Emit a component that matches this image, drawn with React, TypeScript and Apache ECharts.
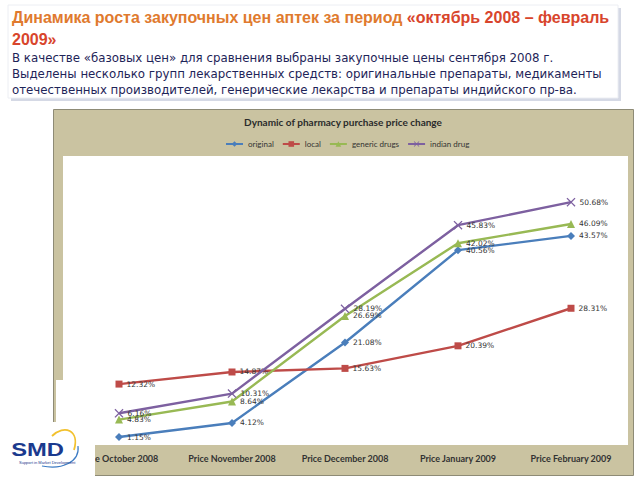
import React, { useEffect, useRef } from 'react';
import * as echarts from 'echarts';

const categories = ['Price October 2008', 'Price November 2008', 'Price December 2008', 'Price January 2009', 'Price February 2009'];
const original = [1.15, 4.12, 21.08, 40.56, 43.57];
const local = [12.32, 14.87, 15.63, 20.39, 28.31];
const generic = [4.83, 8.64, 26.69, 42.02, 46.09];
const indian = [6.16, 10.31, 28.19, 45.83, 50.68];
const seriesNames = ['original', 'local', 'generic drugs', 'indian drug'];
const seriesData = [original, local, generic, indian];
const colors = ['#4A7EBB', '#BE4B48', '#98B954', '#7D60A0'];
const crossPath = 'path://M0,1 L1,0 L5,4 L9,0 L10,1 L6,5 L10,9 L9,10 L5,6 L1,10 L0,9 L4,5 Z';
const symbols = ['diamond', 'rect', 'triangle', crossPath];
const symbolSizes = [8, 7, 8, 9];

const slideTitleA = 'Динамика роста закупочных цен аптек за период ';
const slideTitleB = '«октябрь 2008 – февраль';
const slideTitleC = '2009»';
const subLines = [
  'В качестве «базовых цен» для сравнения выбраны закупочные цены сентября 2008 г.',
  'Выделены несколько групп лекарственных средств: оригинальные препараты, медикаменты',
  'отечественных производителей, генерические лекарства и препараты индийского пр-ва.',
];
const chartTitle = 'Dynamic of pharmacy purchase price change';

const KHAKI = '#CAC3A1';

export default function App() {
  const ref = useRef<HTMLDivElement>(null);
  useEffect(() => {
    if (!ref.current) return;
    const chart = echarts.init(ref.current, null, { renderer: 'svg' });
    const titleFont = 'bold 16px "Liberation Sans", Arial, sans-serif';
    const subFont = '11.8px "DejaVu Sans", sans-serif';
    chart.setOption({
      animation: false,
      backgroundColor: '#FFFFFF',
      grid: { left: 62.5, right: 12.5, top: 158, bottom: 37.5 },
      legend: {
        data: seriesNames,
        top: 135,
        left: 220,
        itemWidth: 17,
        itemHeight: 7,
        itemGap: 8,
        textStyle: { fontFamily: 'Lato', fontSize: 8, color: '#333' },
      },
      xAxis: {
        type: 'category',
        data: categories,
        boundaryGap: true,
        axisLine: { show: false },
        axisTick: { show: false },
        axisLabel: { fontFamily: 'Lato', fontWeight: 'bold', fontSize: 9, color: '#333', margin: 11, interval: 0 },
      },
      yAxis: { type: 'value', min: 0, max: 60, show: false, splitLine: { show: false } },
      series: seriesNames.map((name, i) => ({
        name,
        type: 'line',
        data: seriesData[i],
        z: 3 + i,
        color: colors[i],
        symbol: symbols[i],
        symbolSize: symbolSizes[i],
        lineStyle: { width: 2.4, color: colors[i] },
        itemStyle: { color: colors[i] },
        label: {
          show: true,
          position: 'right',
          distance: 4,
          fontFamily: 'DejaVu Sans',
          fontSize: 7.5,
          color: '#333',
          formatter: (p: any) => p.value.toFixed(2) + '%',
        },
      })),
      graphic: [
        // title box shadow + box
        { type: 'rect', z: 0, shape: { x: 11, y: 8, width: 610, height: 93 }, style: { fill: '#D5D9E5' } },
        { type: 'rect', z: 0, shape: { x: 8, y: 5, width: 610, height: 93 }, style: { fill: '#FFFFFF', stroke: '#ECEEF3', lineWidth: 1 } },
        {
          type: 'text', z: 1, x: 12, y: 17,
          style: {
            text: '{a|' + slideTitleA + '}{b|' + slideTitleB + '}',
            textVerticalAlign: 'middle',
            rich: {
              a: { font: titleFont, fill: '#E07A2E' },
              b: { font: titleFont, fill: '#D8452C' },
            },
          },
        },
        { type: 'text', z: 1, x: 12, y: 39, style: { text: slideTitleC, font: titleFont, fill: '#D8452C', textVerticalAlign: 'middle' } },
        ...subLines.map((t, i) => ({
          type: 'text', z: 1, x: 12, y: 58 + i * 16,
          style: { text: t, font: subFont, fill: '#1E2458', textVerticalAlign: 'middle' },
        })),
        // chart frame
        { type: 'rect', z: 0, shape: { x: 53.5, y: 109.5, width: 580, height: 366 }, style: { fill: KHAKI, stroke: '#8E8B76', lineWidth: 1 } },
        { type: 'rect', z: 0, shape: { x: 63, y: 156, width: 565, height: 289 }, style: { fill: '#FFFFFF' } },
        {
          type: 'text', z: 1, x: 343, y: 122,
          style: { text: chartTitle, font: 'bold 10px Lato', fill: '#2B2B2B', textAlign: 'center', textVerticalAlign: 'middle' },
        },
        // logo cover
        { type: 'rect', z: 100, shape: { x: 56, y: 380, width: 39, height: 100 }, style: { fill: '#FFFFFF' } },
        { type: 'rect', z: 100, shape: { x: 0, y: 422, width: 95, height: 58 }, style: { fill: '#FFFFFF' } },
        { type: 'bezierCurve', z: 101, shape: { x1: 52, y1: 436, cpx1: 64, cpy1: 424, cpx2: 80, cpy2: 430, x2: 74, y2: 450 }, style: { stroke: '#F2C12E', lineWidth: 1.8, fill: 'none' } },
        { type: 'bezierCurve', z: 101, shape: { x1: 78, y1: 446, cpx1: 80, cpy1: 462, cpx2: 62, cpy2: 470, x2: 42, y2: 466 }, style: { stroke: '#3D7CC4', lineWidth: 1.2, fill: 'none' } },
        { type: 'text', z: 102, x: 15, y: 450, scaleX: 1.25, originX: 15, originY: 450, style: { text: 'SMD', font: 'bold 19px "Liberation Sans", Arial, sans-serif', fill: '#1B3A8E', textVerticalAlign: 'middle' } },
        { type: 'text', z: 102, x: 19, y: 462, style: { text: 'Support in Market Development', font: '4px "Liberation Sans", Arial', fill: '#1B3A8E', textVerticalAlign: 'middle' } },
      ],
    });
    return () => chart.dispose();
  }, []);
  return <div ref={ref} style={{ position: 'fixed', left: 0, top: 0, width: 640, height: 480 }} />;
}
